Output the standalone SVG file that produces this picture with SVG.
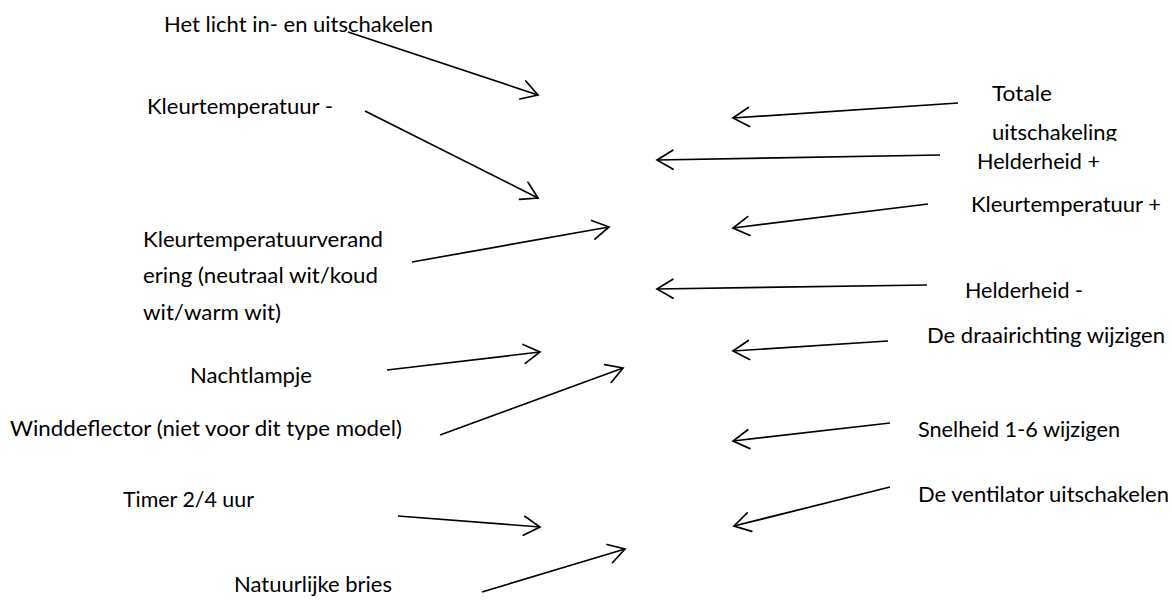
<svg xmlns="http://www.w3.org/2000/svg" width="1172" height="601" viewBox="0 0 1172 601">
<style>
text{font-family:Lato,"Liberation Sans",sans-serif;font-size:21px;fill:#000}
.c line{stroke:#000;stroke-width:1.7;fill:none;marker-end:url(#ah)}
</style>
<defs>
<marker id="ah" markerUnits="userSpaceOnUse" viewBox="-20 -12 22 24" refX="0" refY="0" markerWidth="22" markerHeight="24" orient="auto" overflow="visible">
<path d="M-16,-9.5 L0,0 L-16,9.5" fill="none" stroke="#000" stroke-width="1.7" stroke-linecap="round" stroke-linejoin="miter"/>
</marker>
<clipPath id="clipU"><rect x="980" y="110" width="160" height="31"/></clipPath>
</defs>
<rect width="1172" height="601" fill="#fff"/>
<g class="c" id="connectors">
<line x1="348" y1="32" x2="538" y2="95"/>
<line x1="365" y1="111" x2="538" y2="198"/>
<line x1="412" y1="262" x2="609" y2="227"/>
<line x1="387" y1="370" x2="540" y2="352"/>
<line x1="440" y1="435" x2="623" y2="368"/>
<line x1="398" y1="516" x2="540" y2="527"/>
<line x1="482" y1="592" x2="625" y2="549"/>
<line x1="958" y1="103" x2="733" y2="118"/>
<line x1="940" y1="155" x2="657" y2="160"/>
<line x1="928" y1="204" x2="733" y2="228"/>
<line x1="927" y1="285" x2="657" y2="289"/>
<line x1="888" y1="341" x2="733" y2="351"/>
<line x1="890" y1="423" x2="733" y2="441"/>
<line x1="890" y1="487" x2="734" y2="526"/>
</g>
<g id="n1"><text x="164" y="32" textLength="269" lengthAdjust="spacingAndGlyphs">Het licht in- en uitschakelen</text></g>
<g id="n2"><text x="147" y="114" textLength="186" lengthAdjust="spacingAndGlyphs">Kleurtemperatuur -</text></g>
<g id="n3">
<text x="143" y="247" textLength="240" lengthAdjust="spacingAndGlyphs">Kleurtemperatuurverand</text>
<text x="143" y="283" textLength="235" lengthAdjust="spacingAndGlyphs">ering (neutraal wit/koud</text>
<text x="143" y="320" textLength="138" lengthAdjust="spacingAndGlyphs">wit/warm wit)</text>
</g>
<g id="n4"><text x="190" y="383" textLength="122" lengthAdjust="spacingAndGlyphs">Nachtlampje</text></g>
<g id="n5"><text x="10" y="436" textLength="392" lengthAdjust="spacingAndGlyphs">Winddeflector (niet voor dit type model)</text></g>
<g id="n6"><text x="123" y="507" textLength="131" lengthAdjust="spacingAndGlyphs">Timer 2/4 uur</text></g>
<g id="n7"><text x="234" y="592" textLength="158" lengthAdjust="spacingAndGlyphs">Natuurlijke bries</text></g>
<g id="n8">
<text x="992" y="101" textLength="60" lengthAdjust="spacingAndGlyphs">Totale</text>
<text x="992" y="140" textLength="125" lengthAdjust="spacingAndGlyphs" clip-path="url(#clipU)">uitschakeling</text>
</g>
<g id="n9"><text x="977" y="169" textLength="123" lengthAdjust="spacingAndGlyphs">Helderheid +</text></g>
<g id="n10"><text x="971" y="212" textLength="190" lengthAdjust="spacingAndGlyphs">Kleurtemperatuur +</text></g>
<g id="n11"><text x="965" y="298" textLength="118" lengthAdjust="spacingAndGlyphs">Helderheid -</text></g>
<g id="n12"><text x="927" y="343" textLength="238" lengthAdjust="spacingAndGlyphs">De draairichting wijzigen</text></g>
<g id="n13"><text x="918" y="437" textLength="202" lengthAdjust="spacingAndGlyphs">Snelheid 1-6 wijzigen</text></g>
<g id="n14"><text x="918" y="502" textLength="251" lengthAdjust="spacingAndGlyphs">De ventilator uitschakelen</text></g>
</svg>
